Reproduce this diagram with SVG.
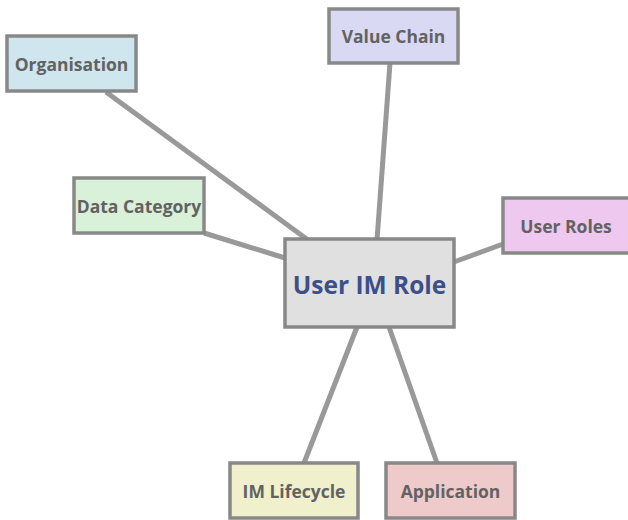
<svg xmlns="http://www.w3.org/2000/svg" width="628" height="520" viewBox="0 0 628 520">
  <style>
    .box { stroke: #888888; stroke-width: 3.5; }
    .lbl { font-family: "Open Sans", "Noto Sans", sans-serif; font-weight: bold; font-size: 17.5px; fill: #626262; text-anchor: middle; dominant-baseline: central; }
    .main { font-size: 24.5px; fill: #3d4f86; }
    .link { stroke: #999999; stroke-width: 5; fill: none; }
  </style>
  <rect width="628" height="520" fill="#ffffff"/>
  <g id="connectors">
    <line class="link" x1="106" y1="92" x2="308" y2="240"/>
    <line class="link" x1="390" y1="63" x2="377" y2="240"/>
    <line class="link" x1="204" y1="233" x2="285" y2="258"/>
    <line class="link" x1="503" y1="244" x2="454" y2="262"/>
    <line class="link" x1="304" y1="463" x2="357" y2="327"/>
    <line class="link" x1="437" y1="463" x2="389" y2="327"/>
  </g>
  <g id="organisation">
    <rect class="box" x="7" y="36" width="129" height="55" fill="#cfe6ee"/>
    <text class="lbl" x="71.5" y="64">Organisation</text>
  </g>
  <g id="value-chain">
    <rect class="box" x="329" y="9" width="129" height="54" fill="#d9d9f3"/>
    <text class="lbl" x="393.5" y="36">Value Chain</text>
  </g>
  <g id="data-category">
    <rect class="box" x="74" y="178" width="130" height="55" fill="#d9f1d9"/>
    <text class="lbl" x="139" y="206">Data Category</text>
  </g>
  <g id="user-roles">
    <rect class="box" x="503" y="198" width="130" height="55" fill="#efc8ef"/>
    <text class="lbl" x="566" y="226">User Roles</text>
  </g>
  <g id="user-im-role">
    <rect class="box" x="285" y="239" width="169" height="88" fill="#e0e0e0"/>
    <text class="lbl main" x="369.5" y="284">User IM Role</text>
  </g>
  <g id="im-lifecycle">
    <rect class="box" x="230" y="463" width="128" height="55" fill="#f0f0cc"/>
    <text class="lbl" x="294" y="491">IM Lifecycle</text>
  </g>
  <g id="application">
    <rect class="box" x="386" y="463" width="129" height="55" fill="#efcaca"/>
    <text class="lbl" x="450.5" y="491">Application</text>
  </g>
</svg>
